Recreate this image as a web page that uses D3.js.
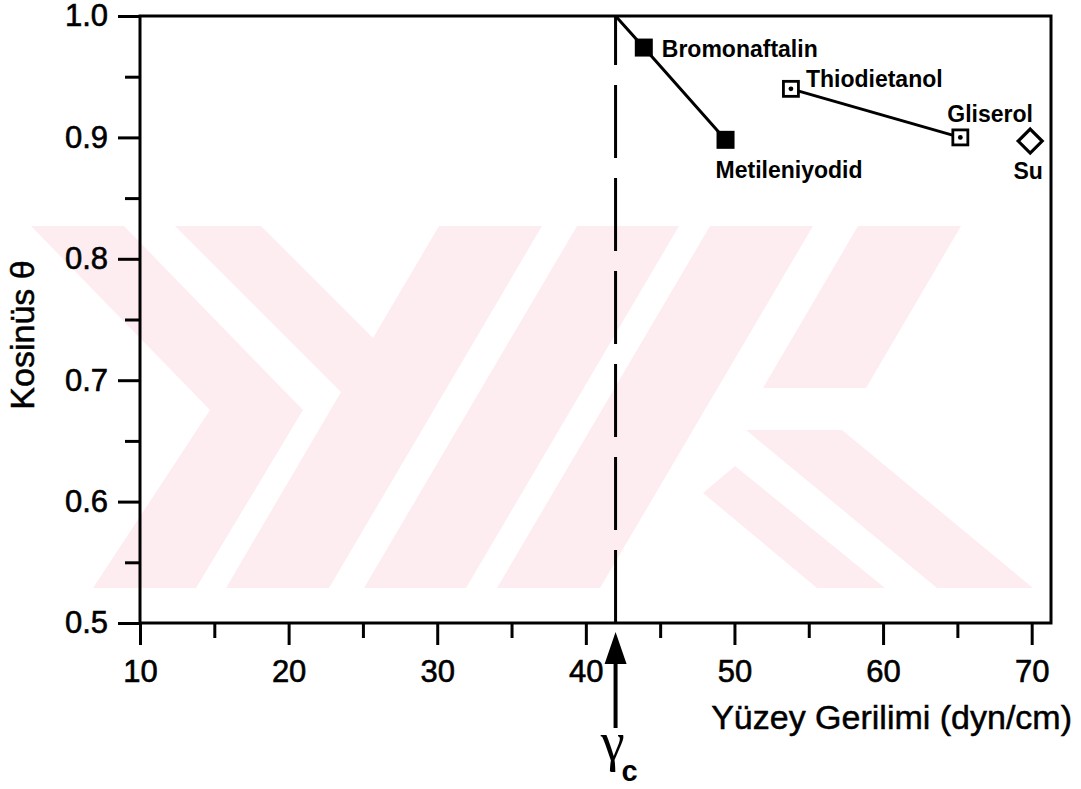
<!DOCTYPE html>
<html>
  <head>
    <script src="https://d3js.org/d3.v7.min.js"></script>
    <style>
    body { margin: 0; background: #fff; }
    text { font-family: "Liberation Sans", Arial, sans-serif; fill: #000; }
    .axis line { stroke: #000; stroke-width: 3; }
    .axis text { font-size: 31px; font-family: "Liberation Sans", Arial, sans-serif; stroke: #000; stroke-width: 0.6; }
    .title { stroke: #000; stroke-width: 0.5; }
    </style>
  </head>
  <body>
    <script>

    // data
    var xTicks = [10, 20, 30, 40, 50, 60, 70];
    var xMinor = [15, 25, 35, 45, 55, 65];
    var yTicks = [0.5, 0.6, 0.7, 0.8, 0.9, 1.0];
    var yMinor = [0.55, 0.65, 0.75, 0.85, 0.95];

    var filledNames = ["Bromonaftalin", "Metileniyodid"];
    var filledX = [43.9, 49.4];
    var filledY = [0.974, 0.898];

    var openNames = ["Thiodietanol", "Gliserol"];
    var openX = [53.8, 65.2];
    var openY = [0.940, 0.900];

    var waterNames = ["Su"];
    var waterX = [69.9];
    var waterY = [0.897];

    var gammaC = 42.0;

    // layout
    var w = 1081, h = 789;
    var mLeft = 140, mRight = 1051, mTop = 16, mBottom = 623;

    // label placement, offset from each point (px)
    var labelPos = {
      "Bromonaftalin": [18, 9, "start"],
      "Metileniyodid": [-10, 38, "start"],
      "Thiodietanol": [15, -2, "start"],
      "Gliserol": [-13, -15, "start"],
      "Su": [-2, 38, "middle"]
    };

    var x = d3.scaleLinear().domain([10, 71.3]).range([mLeft, mRight]);
    var y = d3.scaleLinear().domain([0.5, 1.0]).range([mBottom, mTop]);

    var svg = d3.select("body").append("svg")
      .attr("width", w)
      .attr("height", h);

    // faint pink watermark behind the plot
    var watermark = [
      [[31,226],[124,226],[303,410],[196,588],[93,588],[210,410]],
      [[175,226],[261,226],[373,338],[439,226],[542,226],[329,588],[226,588],[341,392]],
      [[577,226],[679,226],[466,588],[364,588]],
      [[710,226],[813,226],[600,588],[497,588]],
      [[858,226],[961,226],[866,388],[763,388]],
      [[746,430],[842,430],[1033,588],[937,588]],
      [[703,493],[735,466],[885,588],[817,588]]
    ];
    svg.append("g").selectAll("polygon")
      .data(watermark)
      .enter().append("polygon")
      .attr("points", function(d) { return d.join(" "); })
      .attr("fill", "#fdedf0");

    // x axis, major and minor ticks
    svg.append("g")
      .attr("class", "axis")
      .attr("transform", "translate(0," + mBottom + ")")
      .call(d3.axisBottom(x).tickValues(xTicks).tickSize(22).tickPadding(15)
        .tickFormat(d3.format("d")))
      .call(function(g) { g.select(".domain").remove(); });

    svg.append("g")
      .attr("class", "axis")
      .attr("transform", "translate(0," + mBottom + ")")
      .call(d3.axisBottom(x).tickValues(xMinor).tickSize(15).tickFormat(""))
      .call(function(g) { g.select(".domain").remove(); });

    // y axis
    svg.append("g")
      .attr("class", "axis")
      .attr("transform", "translate(" + mLeft + ",0)")
      .call(d3.axisLeft(y).tickValues(yTicks).tickSize(22).tickPadding(10)
        .tickFormat(d3.format(".1f")))
      .call(function(g) { g.select(".domain").remove(); });

    svg.append("g")
      .attr("class", "axis")
      .attr("transform", "translate(" + mLeft + ",0)")
      .call(d3.axisLeft(y).tickValues(yMinor).tickSize(15).tickFormat(""))
      .call(function(g) { g.select(".domain").remove(); });

    // frame
    svg.append("rect")
      .attr("x", mLeft)
      .attr("y", mTop)
      .attr("width", mRight - mLeft)
      .attr("height", mBottom - mTop)
      .attr("fill", "none")
      .attr("stroke", "#000")
      .attr("stroke-width", 3);

    // critical surface tension, dashed
    svg.append("line")
      .attr("x1", x(gammaC)).attr("x2", x(gammaC))
      .attr("y1", y(1.0)).attr("y2", y(0.5))
      .attr("stroke", "#000")
      .attr("stroke-width", 3)
      .attr("stroke-dasharray", "73,20")
      .attr("stroke-dashoffset", 24);

    // arrow under the axis pointing at gamma c
    var ax = x(gammaC);
    svg.append("line")
      .attr("x1", ax).attr("x2", ax)
      .attr("y1", 728).attr("y2", 655)
      .attr("stroke", "#000")
      .attr("stroke-width", 4);
    svg.append("path")
      .attr("d", "M" + ax + ",632 L" + (ax - 11) + ",664 L" + (ax + 11) + ",664 Z")
      .attr("fill", "#000");

    svg.append("text")
      .attr("x", ax - 3)
      .attr("y", 760)
      .attr("text-anchor", "middle")
      .style("font-family", "'Liberation Serif', serif")
      .style("font-size", "54px")
      .text("γ");
    svg.append("text")
      .attr("x", ax + 6)
      .attr("y", 781)
      .style("font-size", "29px")
      .style("font-weight", "bold")
      .text("c");

    // connecting lines
    var line = d3.line()
      .x(function(d) { return x(d[0]); })
      .y(function(d) { return y(d[1]); });

    var filledPts = [[gammaC, 1.0]].concat(filledX.map(function(v, i) { return [v, filledY[i]]; }));
    var openPts = openX.map(function(v, i) { return [v, openY[i]]; });

    svg.append("path")
      .datum(filledPts)
      .attr("d", line)
      .attr("fill", "none")
      .attr("stroke", "#000")
      .attr("stroke-width", 3);

    svg.append("path")
      .datum(openPts)
      .attr("d", line)
      .attr("fill", "none")
      .attr("stroke", "#000")
      .attr("stroke-width", 3);

    // filled squares
    svg.selectAll(".filled")
      .data(filledX)
      .enter().append("rect")
      .attr("class", "filled")
      .attr("x", function(d) { return x(d) - 9; })
      .attr("y", function(d, i) { return y(filledY[i]) - 9; })
      .attr("width", 18)
      .attr("height", 18)
      .attr("fill", "#000");

    // open squares with a dot
    svg.selectAll(".open")
      .data(openX)
      .enter().append("rect")
      .attr("class", "open")
      .attr("x", function(d) { return x(d) - 7.5; })
      .attr("y", function(d, i) { return y(openY[i]) - 7.5; })
      .attr("width", 15)
      .attr("height", 15)
      .attr("fill", "#fff")
      .attr("stroke", "#000")
      .attr("stroke-width", 2.8);

    svg.selectAll(".dot")
      .data(openX)
      .enter().append("circle")
      .attr("class", "dot")
      .attr("cx", function(d) { return x(d); })
      .attr("cy", function(d, i) { return y(openY[i]); })
      .attr("r", 2.4)
      .attr("fill", "#000");

    // water, open diamond
    svg.selectAll(".water")
      .data(waterX)
      .enter().append("path")
      .attr("class", "water")
      .attr("transform", function(d, i) {
        return "translate(" + x(d) + "," + y(waterY[i]) + ")";
      })
      .attr("d", "M0,-12 L12,0 L0,12 L-12,0 Z")
      .attr("fill", "#fff")
      .attr("stroke", "#000")
      .attr("stroke-width", 3.2);

    // point labels
    var labels = [];
    filledNames.forEach(function(n, i) { labels.push([n, filledX[i], filledY[i]]); });
    openNames.forEach(function(n, i) { labels.push([n, openX[i], openY[i]]); });
    waterNames.forEach(function(n, i) { labels.push([n, waterX[i], waterY[i]]); });

    svg.selectAll(".label")
      .data(labels)
      .enter().append("text")
      .attr("class", "label")
      .attr("x", function(d) { return x(d[1]) + labelPos[d[0]][0]; })
      .attr("y", function(d) { return y(d[2]) + labelPos[d[0]][1]; })
      .attr("text-anchor", function(d) { return labelPos[d[0]][2]; })
      .style("font-size", "23px")
      .style("font-weight", "bold")
      .text(function(d) { return d[0]; });

    // axis titles
    svg.append("text")
      .attr("class", "title")
      .attr("x", 1072)
      .attr("y", 729)
      .attr("text-anchor", "end")
      .style("font-size", "34px")
      .text("Yüzey Gerilimi (dyn/cm)");

    svg.append("text")
      .attr("class", "title")
      .attr("transform", "translate(34,335) rotate(-90)")
      .attr("text-anchor", "middle")
      .style("font-size", "34px")
      .text("Kosinüs θ");

    </script>
  </body>
</html>
